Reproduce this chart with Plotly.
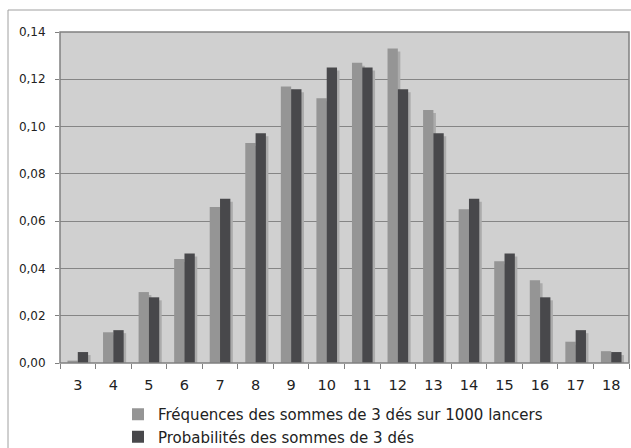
import plotly.graph_objects as go

sommes = [3, 4, 5, 6, 7, 8, 9, 10, 11, 12, 13, 14, 15, 16, 17, 18]
frequences = [0.001, 0.013, 0.030, 0.044, 0.066, 0.093, 0.117, 0.112,
              0.127, 0.133, 0.107, 0.065, 0.043, 0.035, 0.009, 0.005]
probabilites = [0.00463, 0.01389, 0.02778, 0.04630, 0.06944, 0.09722, 0.11574, 0.12500,
                0.12500, 0.11574, 0.09722, 0.06944, 0.04630, 0.02778, 0.01389, 0.00463]
noms = ["Fréquences des sommes de 3 dés sur 1000 lancers",
        "Probabilités des sommes de 3 dés"]
y_ticks = [0, 0.02, 0.04, 0.06, 0.08, 0.10, 0.12, 0.14]

W, H = 631, 448
ML, MR, MT, MB = 60, 2, 32, 85
plot_w = W - ML - MR
plot_h = H - MT - MB
px_x = plot_w / 16.0          # pixels per category
px_y = plot_h / 0.14          # pixels per unit of y

bw = 0.29                      # bar width in category units
sdx = 2.5 / px_x               # shadow offset
sdy = 3.0 / px_y

c_light = "#959595"
c_dark = "#48484b"
c_shadow = "#ababab"
c_bg = "#d0d0d0"
c_grid = "#858585"

fig = go.Figure()

def add_series(vals, off, color, name):
    fig.add_trace(go.Bar(
        x=sommes, y=[max(v - sdy, 0) for v in vals], offset=off + sdx, width=bw,
        marker=dict(color=c_shadow, line=dict(width=0)), showlegend=False, hoverinfo="skip"))
    fig.add_trace(go.Bar(
        x=sommes, y=vals, offset=off, width=bw, name=name,
        marker=dict(color=color, line=dict(width=0))))

add_series(frequences, -bw, c_light, noms[0])
add_series(probabilites, 0, c_dark, noms[1])

fig.update_layout(
    width=W, height=H,
    margin=dict(l=ML, r=MR, t=MT, b=MB, autoexpand=False),
    barmode="overlay",
    paper_bgcolor="white",
    plot_bgcolor=c_bg,
    separators=", ",
    font=dict(family="DejaVu Sans", size=12, color="#222222"),
    showlegend=True,
    legend=dict(x=(118 - ML) / plot_w, y=1 - 398 / H, yref="container",
                xanchor="left", yanchor="top", orientation="v",
                font=dict(size=15, color="#222222"), bgcolor="rgba(0,0,0,0)",
                tracegroupgap=0, itemwidth=30),
    xaxis=dict(range=[2.5, 18.5], tickvals=sommes, ticktext=[str(s) for s in sommes],
               ticks="", showgrid=False, zeroline=False, showline=False,
               ticklabelstandoff=11,
               minor=dict(tickvals=[s - 0.5 for s in sommes] + [18.5], ticks="outside",
                          ticklen=5, tickcolor="#808080", tickwidth=1, showgrid=False),
               tickfont=dict(size=14.5)),
    yaxis=dict(range=[0, 0.14], tickvals=y_ticks, tickformat=".2f",
               ticks="outside", ticklen=4, tickcolor="#808080",
               showgrid=True, gridcolor=c_grid, gridwidth=1,
               zeroline=False, showline=False, ticklabelstandoff=7,
               tickfont=dict(size=12)),
)

# plot area border
fig.add_shape(type="rect", xref="paper", yref="paper", x0=0, y0=0, x1=1, y1=1,
              line=dict(color="#808080", width=1.5), fillcolor="rgba(0,0,0,0)", layer="above")
# outer chart border (cropped on right and bottom)
fig.add_shape(type="rect", xref="paper", yref="paper",
              x0=(8 - ML) / plot_w, y0=-(H + 20 - MT - plot_h) / plot_h,
              x1=(W + 20 - ML) / plot_w, y1=(MT + plot_h - 10) / plot_h,
              line=dict(color="#a0a0a0", width=1), fillcolor="rgba(0,0,0,0)", layer="below")

fig.write_html("out.html", config={"displayModeBar": False},
               post_script="document.body.style.margin='0';")
